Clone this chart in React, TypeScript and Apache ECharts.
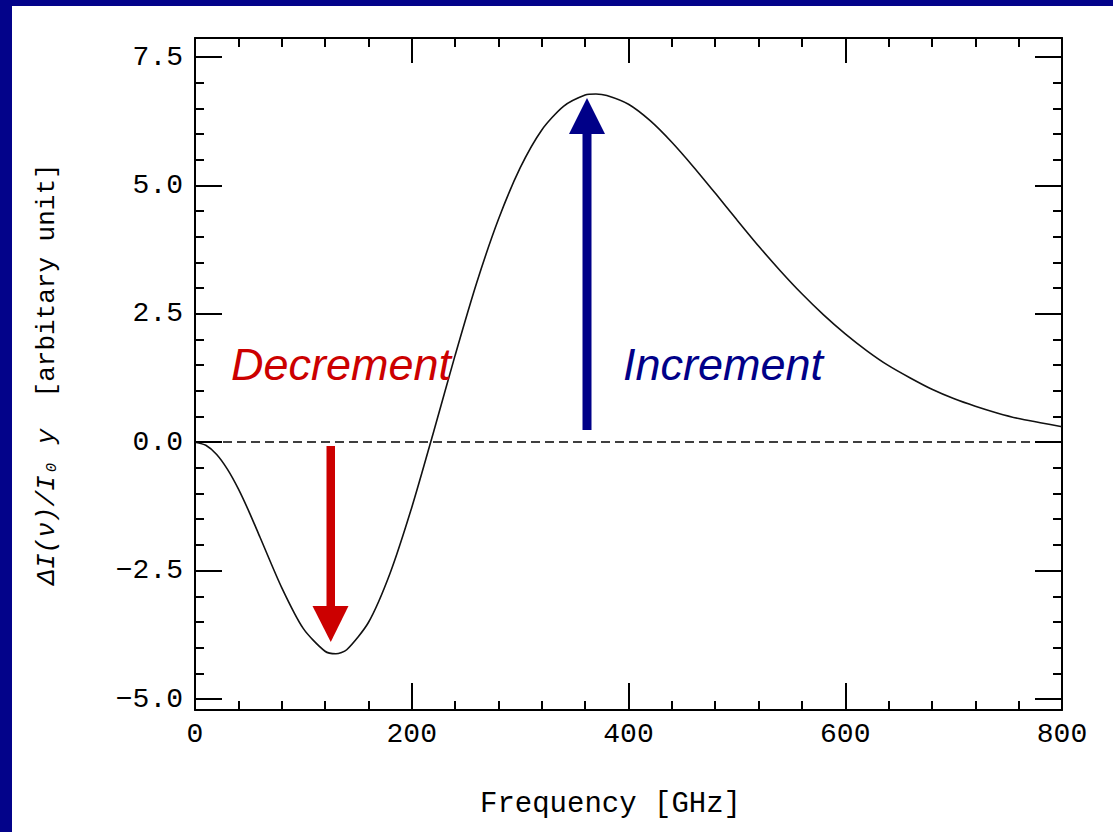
import React, { useEffect, useRef } from "react";
import * as echarts from "echarts";

// Frequency [GHz]
const frequency = [0, 10, 20, 30, 40, 50, 60, 80, 100, 120, 130, 140, 160, 180, 200, 220, 240, 260, 280, 300, 320, 340, 360, 370, 380, 400, 420, 440, 460, 480, 500, 520, 540, 560, 580, 600, 620, 640, 660, 680, 700, 720, 740, 760, 780, 800];
// ΔI(ν)/I0 y [arbitary unit]
const deltaI = [0, -0.06, -0.24, -0.53, -0.91, -1.36, -1.85, -2.83, -3.63, -4.07, -4.12, -4.04, -3.51, -2.55, -1.27, 0.19, 1.69, 3.11, 4.34, 5.34, 6.08, 6.54, 6.76, 6.78, 6.75, 6.58, 6.26, 5.84, 5.36, 4.85, 4.33, 3.82, 3.34, 2.89, 2.48, 2.11, 1.78, 1.49, 1.25, 1.03, 0.85, 0.70, 0.57, 0.46, 0.38, 0.30];

const yMajorTicks = [-5, -2.5, 0, 2.5, 5, 7.5];
const yMinorTicks = [-4.5, -4, -3.5, -3, -2, -1.5, -1, -0.5, 0.5, 1, 1.5, 2, 3, 3.5, 4, 4.5, 5.5, 6, 6.5, 7];
const yTickLabels = ["\u22125.0", "\u22122.5", "0.0", "2.5", "5.0", "7.5"];

const Y_MIN = -5.214;
const Y_MAX = 7.87;
const MONO = '"Liberation Mono", "DejaVu Sans Mono", monospace';

export default function App() {
  const ref = useRef<HTMLDivElement>(null);
  useEffect(() => {
    if (!ref.current) return;
    const chart = echarts.init(ref.current, undefined, { renderer: "svg" });
    const labelFor = (v: number) => {
      const i = yMajorTicks.findIndex((t) => Math.abs(t - v) < 1e-6);
      return i >= 0 ? yTickLabels[i] : "";
    };
    const axisLine = { show: true, onZero: false, lineStyle: { color: "#000", width: 2 } };
    const noLine = { show: false, onZero: false };
    const yBase = { type: "value", min: Y_MIN, max: Y_MAX, splitLine: { show: false } };
    chart.setOption({
      animation: false,
      backgroundColor: "transparent",
      grid: { left: 195, top: 38, right: 51, bottom: 122, containLabel: false },
      xAxis: [
        {
          type: "value", min: 0, max: 800, interval: 200, position: "bottom",
          axisLine,
          axisTick: { show: true, inside: true, length: 27, lineStyle: { color: "#000", width: 2 } },
          minorTick: { show: true, splitNumber: 5, length: 9, lineStyle: { color: "#000", width: 2 } },
          splitLine: { show: false }, minorSplitLine: { show: false },
          axisLabel: { color: "#000", fontFamily: MONO, fontSize: 28, margin: 10 },
          name: "Frequency [GHz]", nameLocation: "middle", nameGap: 80,
          nameTextStyle: { color: "#000", fontFamily: MONO, fontSize: 29, padding: [0, 36, 0, 0] },
        },
        {
          type: "value", min: 0, max: 800, interval: 200, position: "top",
          axisLine,
          axisTick: { show: true, inside: true, length: 25, lineStyle: { color: "#000", width: 2 } },
          minorTick: { show: true, splitNumber: 5, length: 9, lineStyle: { color: "#000", width: 2 } },
          splitLine: { show: false }, axisLabel: { show: false },
        },
      ],
      yAxis: [
        {
          ...yBase, position: "left",
          axisLine,
          axisTick: { show: true, inside: true, length: 27, customValues: yMajorTicks, lineStyle: { color: "#000", width: 2 } },
          axisLabel: { show: true, customValues: yMajorTicks, formatter: (v: number) => labelFor(v), color: "#000", fontFamily: MONO, fontSize: 28, margin: 12 },
          name: "{i|\u0394I(\u03bd)/I\u2080 y}  [arbitary unit]",
          nameLocation: "middle", nameRotate: 90, nameGap: 135,
          nameTextStyle: {
            color: "#000", fontFamily: MONO, fontSize: 26,
            rich: { i: { fontFamily: MONO, fontSize: 26, fontStyle: "italic", color: "#000" } },
          },
        },
        {
          ...yBase, position: "left",
          axisLine: noLine,
          axisTick: { show: true, inside: true, length: 9, customValues: yMinorTicks, lineStyle: { color: "#000", width: 2 } },
          axisLabel: { show: false },
        },
        {
          ...yBase, position: "right",
          axisLine,
          axisTick: { show: true, inside: true, length: 27, customValues: yMajorTicks, lineStyle: { color: "#000", width: 2 } },
          axisLabel: { show: false },
        },
        {
          ...yBase, position: "right",
          axisLine: noLine,
          axisTick: { show: true, inside: true, length: 9, customValues: yMinorTicks, lineStyle: { color: "#000", width: 2 } },
          axisLabel: { show: false },
        },
      ],
      series: [
        {
          type: "line",
          xAxisIndex: 0,
          yAxisIndex: 0,
          data: frequency.map((f, i) => [f, deltaI[i]]),
          smooth: 0.25,
          showSymbol: false,
          lineStyle: { color: "#111", width: 1.6 },
          markLine: {
            silent: true,
            symbol: ["none", "none"],
            label: { show: false },
            lineStyle: { color: "#000", width: 1.6, type: [9, 5] },
            data: [{ yAxis: 0 }],
          },
        },
      ],
      graphic: [
        { type: "rect", shape: { x: 326.5, y: 446, width: 8.5, height: 162 }, style: { fill: "#CC0000" }, z: 10 },
        { type: "polygon", shape: { points: [[312.5, 606], [348.5, 606], [330.75, 642]] }, style: { fill: "#CC0000" }, z: 10 },
        { type: "rect", shape: { x: 582.5, y: 133, width: 9, height: 297 }, style: { fill: "#000088" }, z: 10 },
        { type: "polygon", shape: { points: [[569, 134], [605, 134], [587, 98]] }, style: { fill: "#000088" }, z: 10 },
        {
          type: "text", x: 231, y: 364, z: 10,
          style: { text: "Decrement", fill: "#CC0000", font: 'italic 45px "Liberation Sans", Arial, sans-serif', verticalAlign: "middle", align: "left" },
        },
        {
          type: "text", x: 623, y: 364, z: 10,
          style: { text: "Increment", fill: "#000088", font: 'italic 45px "Liberation Sans", Arial, sans-serif', verticalAlign: "middle", align: "left" },
        },
      ],
    });
    return () => chart.dispose();
  }, []);

  return (
    <div style={{ position: "absolute", left: 0, top: 0, width: 1113, height: 832, background: "#03038a", overflow: "hidden" }}>
      <div style={{ position: "absolute", left: 12, top: 6, right: 0, bottom: 0, background: "#ffffff" }} />
      <div ref={ref} style={{ position: "absolute", left: 0, top: 0, width: 1113, height: 832 }} />
    </div>
  );
}
